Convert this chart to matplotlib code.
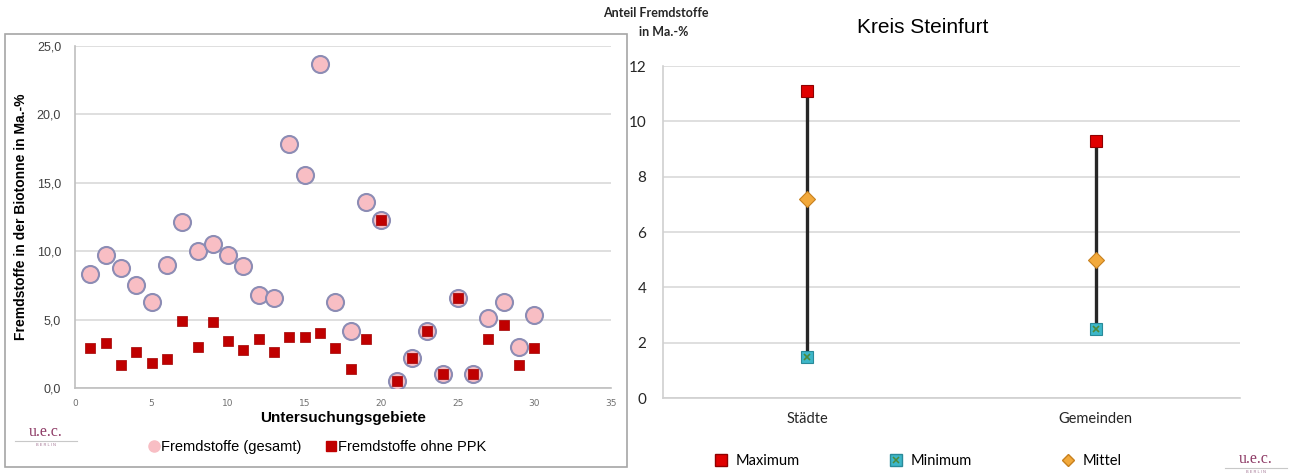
import numpy as np
import matplotlib.pyplot as plt
from matplotlib.patches import Rectangle
from matplotlib.lines import Line2D
from matplotlib.ticker import FuncFormatter

# Fremdstoffanteil je Untersuchungsgebiet (Ma.-%)
gebiete = list(range(1, 31))
fremd_gesamt = [8.3, 9.7, 8.8, 7.5, 6.3, 9.0, 12.1, 10.0, 10.5, 9.7,
                8.9, 6.8, 6.6, 17.8, 15.6, 23.7, 6.3, 4.2, 13.6, 12.3,
                0.5, 2.2, 4.2, 1.0, 6.6, 1.0, 5.1, 6.3, 3.0, 5.3]
fremd_ohne_ppk = [2.9, 3.3, 1.7, 2.6, 1.8, 2.1, 4.9, 3.0, 4.8, 3.4,
                  2.8, 3.6, 2.6, 3.7, 3.7, 4.0, 2.9, 1.4, 3.6, 12.3,
                  0.5, 2.2, 4.2, 1.0, 6.6, 1.0, 3.6, 4.6, 1.7, 2.9]

# Kreis Steinfurt: Spannweite und Mittel
kategorien = ['Städte', 'Gemeinden']
maximum = [11.1, 9.3]
minimum = [1.5, 2.5]
mittel = [7.2, 5.0]

W, H = 1289, 474
fig = plt.figure(figsize=(W / 100, H / 100), dpi=100)
fig.patch.set_facecolor('white')

def fx(px):
    return px / W

def fy(py):
    return 1 - py / H

# frame around the left chart
fig.patches.append(Rectangle((fx(5), fy(467)), fx(622), (467 - 34) / H,
                             transform=fig.transFigure, fill=False,
                             edgecolor='#A6A6A6', lw=1.2))

# ---------- left: scatter of all study areas ----------
ax1 = fig.add_axes([fx(75), fy(388), fx(536), (388 - 46) / H])
ax1.set_xlim(0, 35)
ax1.set_ylim(0, 25)
ax1.set_yticks(np.arange(0, 26, 5))
ax1.set_xticks(np.arange(0, 36, 5))
ax1.yaxis.set_major_formatter(FuncFormatter(lambda v, p: f'{v:.1f}'.replace('.', ',')))
ax1.grid(axis='y', color='#D9D9D9', lw=1.2)
ax1.set_axisbelow(True)
for s in ['top', 'right']:
    ax1.spines[s].set_visible(False)
for s in ['left', 'bottom']:
    ax1.spines[s].set_color('#BFBFBF')
    ax1.spines[s].set_linewidth(1.2)
ax1.tick_params(axis='y', length=0, pad=10, labelsize=9, labelcolor='#404040')
ax1.tick_params(axis='x', length=0, pad=8, labelsize=6.5, labelcolor='#707070')
for t in ax1.get_yticklabels():
    t.set_family('Liberation Sans')

ax1.scatter(gebiete, fremd_gesamt, s=150, marker='o', facecolor='#F8BEC4',
            edgecolor='#8C8CB4', linewidth=1.5, zorder=3,
            label='Fremdstoffe (gesamt)')
ax1.scatter(gebiete, fremd_ohne_ppk, s=62, marker='s', facecolor='#C00000',
            edgecolor='#A00000', linewidth=0.5, zorder=4,
            label='Fremdstoffe ohne PPK')

ax1.set_xlabel('Untersuchungsgebiete', family='Liberation Sans',
               fontsize=11, fontweight='bold', labelpad=2)
ax1.set_ylabel('Fremdstoffe in der Biotonne in Ma.-%', family='Liberation Sans',
               fontsize=10, fontweight='bold', labelpad=6)

fig.legend(handles=[
    Line2D([], [], ls='', marker='o', ms=8, mfc='#F8BEC4', mec='#F8BEC4'),
    Line2D([], [], ls='', marker='s', ms=7, mfc='#C00000', mec='#C00000')],
    labels=['Fremdstoffe (gesamt)', 'Fremdstoffe ohne PPK'],
    loc='center', bbox_to_anchor=(fx(318), fy(447)), ncol=2, frameon=False,
    handlelength=0.6, handletextpad=0.2, columnspacing=1.7,
    prop={'family': 'Liberation Sans', 'size': 10.5})

def logo(x, y):
    fig.text(fx(x), fy(y), 'u.e.c.', color='#8E3B66', fontsize=11.5,
             family='Liberation Serif', ha='center', va='center')
    fig.add_artist(Line2D([fx(x - 31), fx(x + 31)], [fy(y + 9), fy(y + 9)],
                          color='#C8C8C8', lw=0.8))
    fig.text(fx(x), fy(y + 13), 'B E R L I N', color='#A07090', fontsize=2.8,
             family='Liberation Sans', ha='center', va='center')

logo(46, 432)
logo(1256, 459)

# ---------- right: range chart Kreis Steinfurt ----------
ax2 = fig.add_axes([fx(663), fy(398), fx(577), (398 - 66) / H])
xpos = np.arange(len(kategorien))
ax2.set_xlim(-0.5, 1.5)
ax2.set_ylim(0, 12)
ax2.set_yticks(np.arange(0, 13, 2))
ax2.set_xticks(xpos)
ax2.set_xticklabels(kategorien)
ax2.grid(axis='y', color='#D9D9D9', lw=1.2)
ax2.set_axisbelow(True)
for s in ['top', 'right']:
    ax2.spines[s].set_visible(False)
for s in ['left', 'bottom']:
    ax2.spines[s].set_color('#D0D0D0')
    ax2.spines[s].set_linewidth(1.2)
ax2.tick_params(axis='y', length=0, pad=12, labelsize=11, labelcolor='#262626')
ax2.tick_params(axis='x', length=0, pad=10, labelsize=10.5, labelcolor='#262626')
for t in ax2.get_yticklabels() + ax2.get_xticklabels():
    t.set_family('Lato')

ax2.vlines(xpos, minimum, maximum, color='#262626', lw=2.4, zorder=3)
ax2.plot(xpos, maximum, ls='', marker='s', ms=9, mfc='#E00000', mec='#900000',
         mew=0.8, zorder=4)
ax2.plot(xpos, minimum, ls='', marker='s', ms=9, mfc='#3DB7C9', mec='#2A8A99',
         mew=0.8, zorder=4)
ax2.plot(xpos, minimum, ls='', marker='x', ms=5, mec='#4E8A3A', mew=1.2, zorder=5)
ax2.plot(xpos, mittel, ls='', marker='D', ms=8, mfc='#F2A93B', mec='#C7801E',
         mew=0.8, zorder=4)

ax2.set_title('Kreis Steinfurt', family='Liberation Sans', fontsize=15,
              x=0.45, y=1.0, pad=24)
fig.text(fx(656), fy(13), 'Anteil Fremdstoffe', family='Lato', fontweight='bold',
         fontsize=9, ha='center', va='center', color='#262626')
fig.text(fx(664), fy(32), 'in Ma.-%', family='Lato', fontweight='bold',
         fontsize=9, ha='center', va='center', color='#262626')

h_max = Line2D([], [], ls='', marker='s', ms=8, mfc='#E00000', mec='#900000')
h_min = (Line2D([], [], ls='', marker='s', ms=8, mfc='#3DB7C9', mec='#2A8A99'),
         Line2D([], [], ls='', marker='x', ms=4.5, mec='#4E8A3A', mew=1.1))
h_mit = Line2D([], [], ls='', marker='D', ms=6.5, mfc='#F2A93B', mec='#C7801E')
fig.legend(handles=[h_max, h_min, h_mit], labels=['Maximum', 'Minimum', 'Mittel'],
           loc='center', bbox_to_anchor=(fx(918), fy(461)), ncol=3, frameon=False,
           handlelength=1.0, handletextpad=0.5, columnspacing=6.1,
           prop={'family': 'Lato', 'size': 10.5})

fig.savefig('out.png', dpi=100)
